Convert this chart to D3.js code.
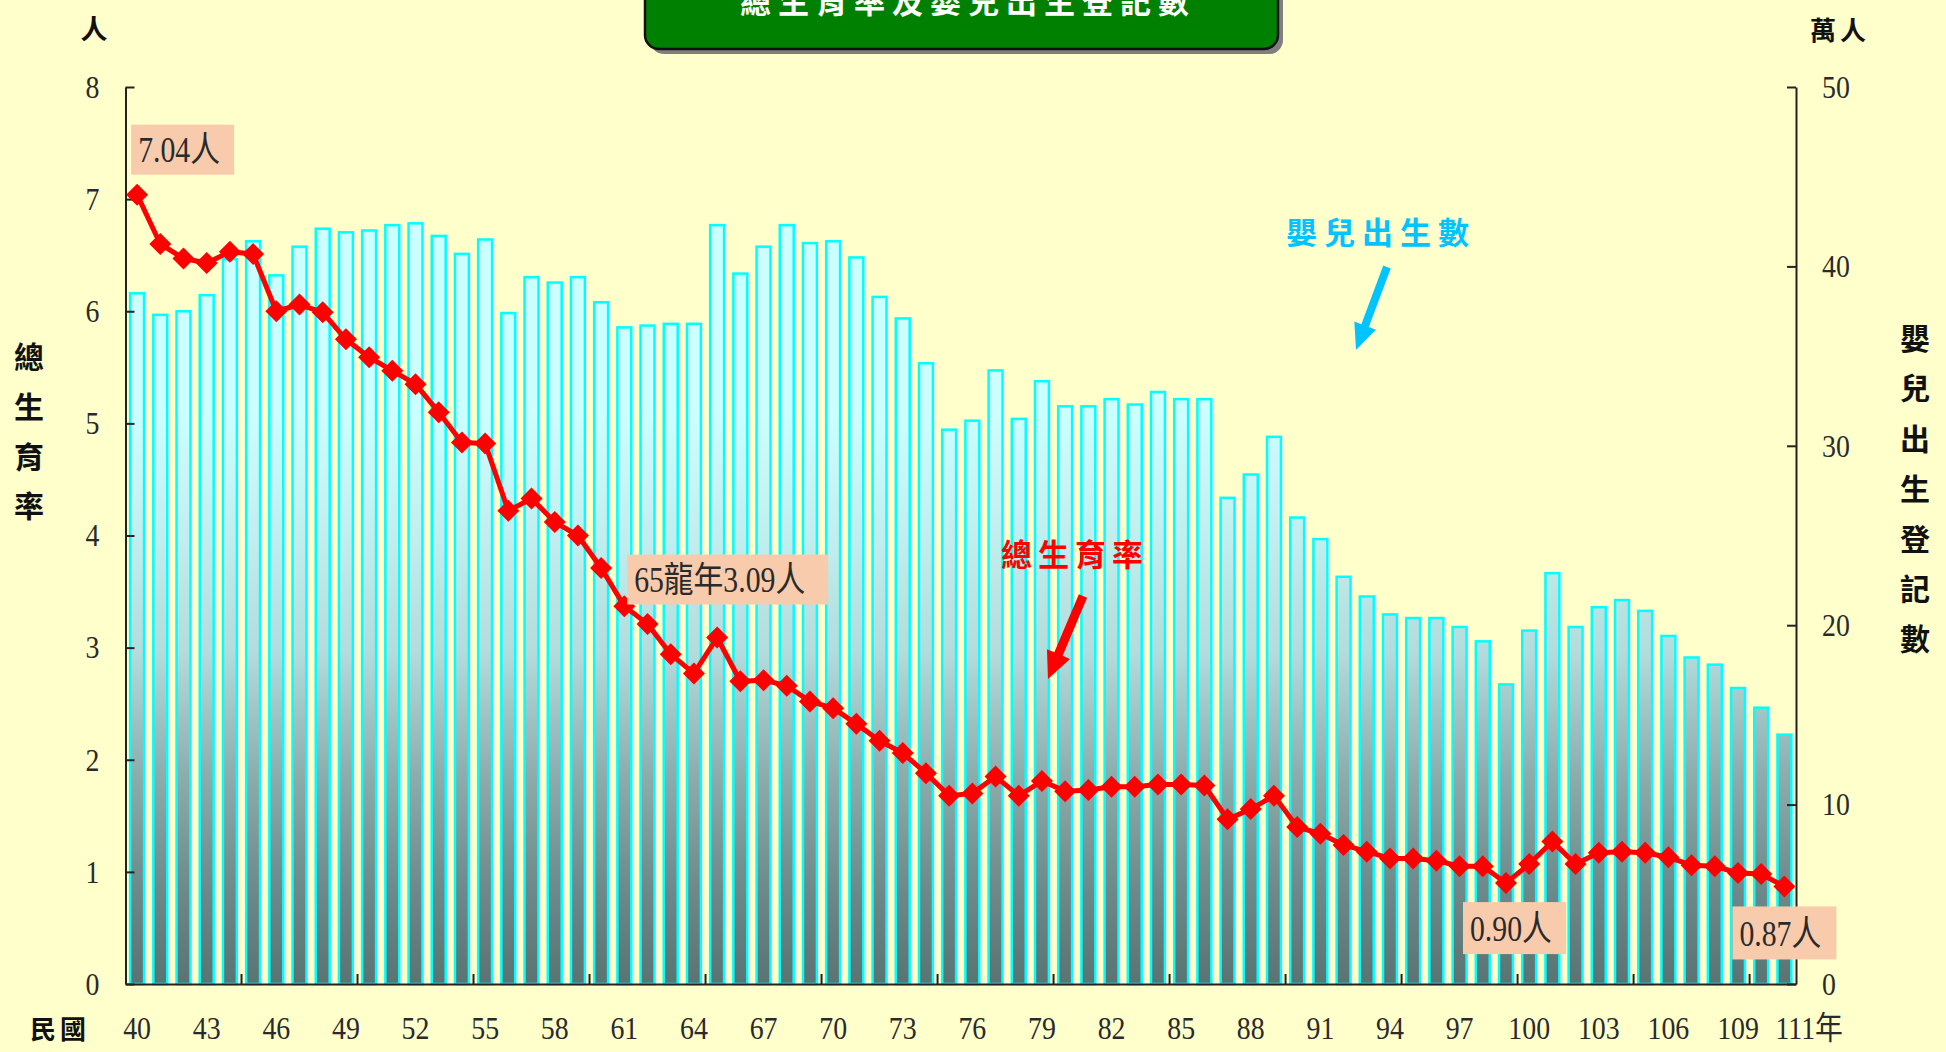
<!DOCTYPE html>
<html><head><meta charset="utf-8">
<script src="https://cdn.jsdelivr.net/npm/d3@7"></script>
<style>html,body{margin:0;padding:0;background:#ffffcc;overflow:hidden}</style>
</head><body>
<script>
// ---- data ----
const years = [40,41,42,43,44,45,46,47,48,49,50,51,52,53,54,55,56,57,58,59,60,61,62,63,64,65,66,67,68,69,70,71,72,73,74,75,76,77,78,79,80,81,82,83,84,85,86,87,88,89,90,91,92,93,94,95,96,97,98,99,100,101,102,103,104,105,106,107,108,109,110,111];
// 嬰兒出生登記數 (萬人)
const births = [38.5,37.3,37.5,38.4,40.4,41.4,39.5,41.1,42.1,41.9,42.0,42.3,42.4,41.7,40.7,41.5,37.4,39.4,39.1,39.4,38.0,36.6,36.7,36.8,36.8,42.3,39.6,41.1,42.3,41.3,41.4,40.5,38.3,37.1,34.6,30.9,31.4,34.2,31.5,33.6,32.2,32.2,32.6,32.3,33.0,32.6,32.6,27.1,28.4,30.5,26.0,24.8,22.7,21.6,20.6,20.4,20.4,19.9,19.1,16.7,19.7,22.9,19.9,21.0,21.4,20.8,19.4,18.2,17.8,16.5,15.4,13.9];
// 總生育率 (人)
const tfr = [7.04,6.60,6.47,6.43,6.53,6.51,6.00,6.06,5.99,5.75,5.59,5.47,5.35,5.10,4.83,4.82,4.22,4.33,4.12,4.00,3.71,3.37,3.21,2.94,2.77,3.09,2.70,2.71,2.66,2.52,2.46,2.32,2.17,2.06,1.88,1.68,1.70,1.85,1.68,1.81,1.72,1.73,1.76,1.76,1.78,1.78,1.77,1.47,1.56,1.68,1.40,1.34,1.24,1.18,1.12,1.12,1.10,1.05,1.05,0.90,1.07,1.27,1.07,1.17,1.18,1.17,1.13,1.06,1.05,0.99,0.98,0.87];
const xLabelYears = [40,43,46,49,52,55,58,61,64,67,70,73,76,79,82,85,88,91,94,97,100,103,106,109,111];
const xTickYears = [44,49,54,59,64,69,74,79,84,89,94,99,104,109];
const leftTicks = [0,1,2,3,4,5,6,7,8];
const rightTicks = [0,10,20,30,40,50];
const annotations = [
  {year:40, value:7.04, text:"7.04人"},
  {year:65, value:3.09, text:"65龍年3.09人"},
  {year:99, value:0.90, text:"0.90人"},
  {year:111, value:0.87, text:"0.87人"}
];

// ---- layout ----
const W = 1946, H = 1052;
const L = 125.5, R = 1796, T = 87, B = 984;
const serif = "'Liberation Serif','Noto Sans CJK TC',serif";
const cjk = "'Noto Sans CJK TC','Noto Sans CJK SC',sans-serif";

const svg = d3.select("body").append("svg").attr("width", W).attr("height", H);
svg.append("rect").attr("width", W).attr("height", H).attr("fill", "#ffffcc");

const x = d3.scaleBand().domain(years).range([L, R]).paddingInner(0.4).paddingOuter(0.2);
const yL = d3.scaleLinear().domain([0, 8]).range([B, T]);
const yR = d3.scaleLinear().domain([0, 50]).range([B, T]);
const cx = d => x(d) + x.bandwidth() / 2;

// gradient
const defs = svg.append("defs");
const g = defs.append("linearGradient").attr("id", "barGrad")
  .attr("gradientUnits", "userSpaceOnUse").attr("x1", 0).attr("x2", 0).attr("y1", T).attr("y2", B);
[[0,"#ccffff"],[0.36,"#ccffff"],[0.48,"#c3f1f1"],[0.63,"#b3dcdc"],[0.77,"#8cacac"],[0.9,"#6c8888"],[1,"#5a7373"]]
  .forEach(([o,c]) => g.append("stop").attr("offset", o).attr("stop-color", c));

// bars
svg.append("g").selectAll("rect").data(years).join("rect")
  .attr("x", d => x(d)).attr("width", x.bandwidth())
  .attr("y", (d,i) => yR(births[i])).attr("height", (d,i) => B - yR(births[i]))
  .attr("fill", "url(#barGrad)").attr("stroke", "#00ffff").attr("stroke-width", 2.5);

// axes
function styleTickText(sel, sx) {
  sel.selectAll("text").attr("font-family", serif).attr("font-size", 32).attr("fill", "#2a2a2a")
    .attr("transform", `scale(${sx},1)`);
}
const sx = 0.87;
const axL = svg.append("g").attr("transform", `translate(${L},0)`)
  .call(d3.axisLeft(yL).tickValues(leftTicks).tickSizeInner(-9).tickSizeOuter(0).tickPadding(26 / sx));
styleTickText(axL, sx);
const axR = svg.append("g").attr("transform", `translate(${R},0)`)
  .call(d3.axisRight(yR).tickValues(rightTicks).tickSizeInner(-9).tickSizeOuter(0).tickPadding(26 / sx));
styleTickText(axR, sx);
const axB = svg.append("g").attr("transform", `translate(0,${B})`)
  .call(d3.axisBottom(x).tickValues(xLabelYears).tickSize(0).tickPadding(0)
        .tickFormat(d => d === 111 ? "111年" : d));
styleTickText(axB, sx);
axB.selectAll("text").attr("dy", null).attr("y", 55);
axB.selectAll(".tick").filter(d => d === 111).select("text").attr("text-anchor", "start").attr("x", -9 / sx);
[axL, axR, axB].forEach(a => {
  a.selectAll("path.domain").attr("stroke", "#222").attr("stroke-width", 2);
  a.selectAll(".tick line").attr("stroke", "#222").attr("stroke-width", 2);
});
// bottom inward ticks at 5-year boundaries
svg.append("g").selectAll("line").data(xTickYears).join("line")
  .attr("x1", d => x(d) + x.step() - x.step() * 0.2).attr("x2", d => x(d) + x.step() - x.step() * 0.2)
  .attr("y1", B).attr("y2", B - 10).attr("stroke", "#222").attr("stroke-width", 2);

// line + diamonds
const line = d3.line().x((d,i) => cx(years[i])).y(d => yL(d));
svg.append("path").datum(tfr).attr("d", line).attr("fill", "none")
  .attr("stroke", "#ff0000").attr("stroke-width", 5).attr("stroke-linejoin", "round");
svg.append("g").selectAll("path").data(tfr).join("path")
  .attr("d", "M0,-11L11,0L0,11L-11,0Z")
  .attr("transform", (d,i) => `translate(${cx(years[i])},${yL(d)})`)
  .attr("fill", "#ff0000");

// annotation boxes
const annLayout = {
  40: {dx: 1, dy: -70, w: 103, h: 50},
  65: {dx: -90, dy: -83, w: 201, h: 50},
  99: {dx: -43, dy: 19, w: 103, h: 52},
  111:{dx: -52, dy: 20, w: 104, h: 53}
};
annotations.forEach(a => {
  const p = annLayout[a.year];
  const bx = (a.year === 40 ? x(a.year) : cx(a.year)) + p.dx;
  const by = yL(a.value) + p.dy;
  svg.append("rect").attr("x", bx).attr("y", by).attr("width", p.w).attr("height", p.h).attr("fill", "#f8cbad");
  svg.append("g").attr("transform", `translate(${bx + 7},${by + p.h * 0.75})`)
    .append("text").attr("font-family", serif).attr("font-size", 35).attr("fill", "#2a2a2a")
    .attr("transform", "scale(0.85,1)").text(a.text);
});

// arrows
function arrow(x1, y1, x2, y2, color, sw, hw, hl) {
  const dx = x2 - x1, dy = y2 - y1, len = Math.hypot(dx, dy);
  const ux = dx / len, uy = dy / len, nx = -uy, ny = ux;
  const bx = x2 - ux * hl, by = y2 - uy * hl;
  const pts = [
    [x1 + nx * sw / 2, y1 + ny * sw / 2], [bx + nx * sw / 2, by + ny * sw / 2],
    [bx + nx * hw / 2, by + ny * hw / 2], [x2, y2],
    [bx - nx * hw / 2, by - ny * hw / 2], [bx - nx * sw / 2, by - ny * sw / 2],
    [x1 - nx * sw / 2, y1 - ny * sw / 2]
  ];
  svg.append("polygon").attr("points", pts.map(p => p.join(",")).join(" ")).attr("fill", color);
}
arrow(1083, 596, 1048, 679, "#ff0000", 9, 25, 27);
arrow(1387, 267, 1356, 350, "#00c4ff", 8, 23, 26);

// series labels
svg.append("text").attr("x", 1075).attr("y", 566).attr("text-anchor", "middle")
  .attr("font-family", cjk).attr("font-weight", 700).attr("font-size", 31).attr("letter-spacing", 6)
  .attr("fill", "#ff0000").text("總生育率");
svg.append("text").attr("x", 1381).attr("y", 244).attr("text-anchor", "middle")
  .attr("font-family", cjk).attr("font-weight", 700).attr("font-size", 31).attr("letter-spacing", 7)
  .attr("fill", "#00c4ff").text("嬰兒出生數");

// axis titles
function vtext(xc, ys, chars) {
  chars.split("").forEach((c, i) => svg.append("text").attr("x", xc).attr("y", ys[i] + 11)
    .attr("text-anchor", "middle").attr("font-family", cjk).attr("font-weight", 700)
    .attr("font-size", 30).attr("fill", "#111").text(c));
}
vtext(29, [357, 407, 457, 506], "總生育率");
vtext(1915, [338, 388, 439, 489, 539, 589, 639], "嬰兒出生登記數");
svg.append("text").attr("x", 94).attr("y", 39).attr("text-anchor", "middle")
  .attr("font-family", cjk).attr("font-weight", 700).attr("font-size", 27).attr("fill", "#111").text("人");
svg.append("text").attr("x", 1840).attr("y", 40).attr("text-anchor", "middle")
  .attr("font-family", cjk).attr("font-weight", 700).attr("font-size", 26).attr("letter-spacing", 4).attr("fill", "#111").text("萬人");
svg.append("text").attr("x", 60).attr("y", 1039).attr("text-anchor", "middle")
  .attr("font-family", cjk).attr("font-weight", 700).attr("font-size", 26).attr("letter-spacing", 4).attr("fill", "#111").text("民國");

// title box
svg.append("rect").attr("x", 650).attr("y", -20).attr("width", 633).attr("height", 74).attr("rx", 14).attr("fill", "#7f7f7f");
svg.append("rect").attr("x", 645).attr("y", -25).attr("width", 633).attr("height", 74).attr("rx", 14)
  .attr("fill", "#008000").attr("stroke", "#111").attr("stroke-width", 2.5);
svg.append("text").attr("x", 968).attr("y", 13).attr("text-anchor", "middle")
  .attr("font-family", cjk).attr("font-weight", 700).attr("font-size", 31).attr("letter-spacing", 7)
  .attr("fill", "#ffffff").text("總生育率及嬰兒出生登記數");
</script>
</body></html>
